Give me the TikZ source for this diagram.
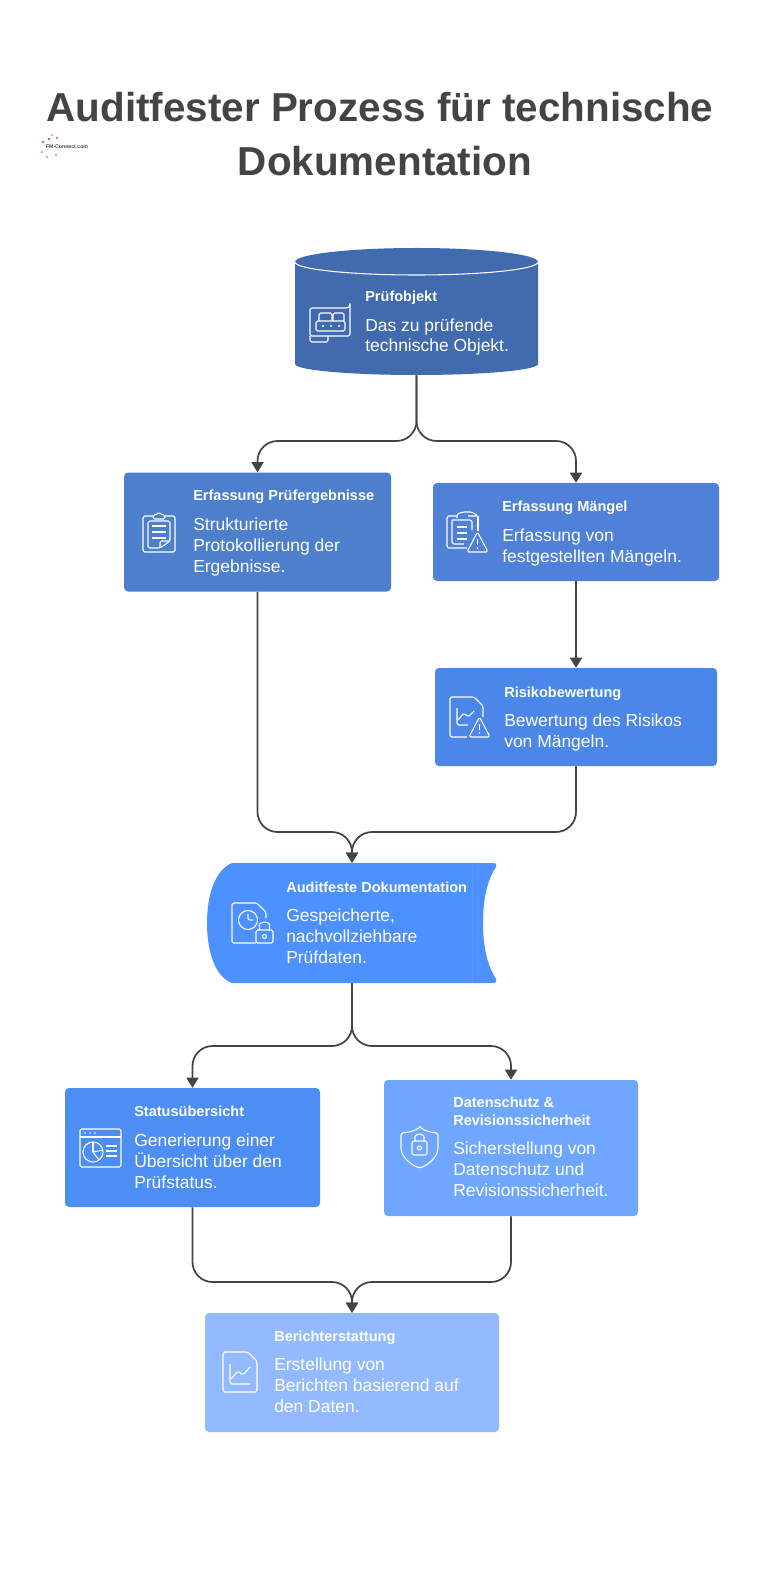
\documentclass[tikz,border=0pt]{standalone}
\usepackage{fontspec}
\setmainfont{Liberation Sans}
\usetikzlibrary{arrows.meta}
\definecolor{inkgray}{HTML}{444444}
\definecolor{objblue}{HTML}{416BAE}
\definecolor{ergblue}{HTML}{4E7FCC}
\definecolor{mangblue}{HTML}{4F81D8}
\definecolor{riskblue}{HTML}{4B87E8}
\definecolor{docblue}{HTML}{4D90FF}
\definecolor{docband}{HTML}{5A97FF}
\definecolor{statblue}{HTML}{4D8EF5}
\definecolor{datblue}{HTML}{6FA6FF}
\definecolor{berblue}{HTML}{93BAFF}
\tikzset{
    flow/.style={draw=inkgray, line width=1.3pt, rounded corners=15pt, -{Triangle[width=9pt,length=7.5pt]}},
    icon/.style={draw=white, line width=.8pt, rounded corners=1.2pt, line join=round},
    hd/.style={anchor=base west, inner sep=0pt, text=white, font=\fontsize{10.9}{13}\selectfont\bfseries, align=left},
    body/.style={anchor=base west, inner sep=0pt, text=white, font=\fontsize{13.1}{15.4}\selectfont, align=left},
    heading/.style={inner sep=0pt, text=inkgray, font=\fontsize{30.3}{36}\selectfont\bfseries},
    warn/.pic={
        \draw[icon] (0,20) -- (10.5,0) -- (21,20) -- cycle;
        \draw[icon] (10.5,7) -- (10.5,13);
        \fill[white] (10.5,16) circle (.6pt);
    },
    padlock/.pic={
        \draw[icon] (0,8) rectangle (17,21);
        \draw[icon] (3.5,8) -- (3.5,4) arc (180:360:5 and 4) -- (13.5,8);
        \draw[icon] (8.5,14.5) circle (2);
    },
}
\begin{document}
\begin{tikzpicture}[x=.75pt, y=-.75pt]
\useasboundingbox (0,0) rectangle (769,1590);
\fill[white] (0,0) rectangle (769,1590);

% heading
\node[heading] (title) at (380,107) {Auditfester Prozess für technische};
\node[heading] (title2) at (385,161) {Dokumentation};

% logo
\foreach \x/\y/\col in {43/142/violet, 49/139/blue, 57/138/red, 42/152/gray, 47/157/cyan, 56/155/cyan, 52/135/orange}
{
    \fill[\col!60] (\x,\y) circle (1.1pt);
}
\node[inner sep=0pt, text=inkgray, font=\fontsize{3.9}{5}\selectfont\bfseries] (logo) at (67,147) {FM-Connect.com};

% database on top
\fill[objblue] (295,262) arc (180:360:121.5 and 14) -- (538,364) arc (0:180:121.5 and 11) -- cycle;
\draw[white, line width=.8pt] (295,262) arc (180:0:121.5 and 13);
\node[minimum width=243*.75pt, minimum height=127*.75pt, inner sep=0pt] (obj) at (416.5,311.5) {};

% plain boxes
\foreach \name/\cx/\cy/\w/\h/\col in {erg/257.5/532/267/119/ergblue, mang/576/532/286/98/mangblue, risk/576/717/282/98/riskblue, stat/192.5/1147.5/255/119/statblue, dat/511/1148/254/136/datblue, ber/352/1372.5/294/119/berblue}
{
    \node[fill=\col, rounded corners=3pt, minimum width=\w*.75pt, minimum height=\h*.75pt, inner sep=0pt] (\name) at (\cx,\cy) {};
}

% scroll shape
\fill[docblue] (232,863) -- (493,863) .. controls (496,863) and (497,865) .. (496,867) .. controls (487,880) and (483,900) .. (483,923) .. controls (483,946) and (487,965) .. (496,979) .. controls (497,981) and (496,983) .. (493,983) -- (232,983) .. controls (215,977) and (207,951) .. (207,923) .. controls (207,895) and (215,870) .. (232,863) -- cycle;
\draw[docband, line width=.5pt] (472,863) -- (472,983);
\node[minimum width=290*.75pt, minimum height=120*.75pt, inner sep=0pt] (doc) at (352,923) {};

% connectors
\coordinate (jobj) at (416.5,441);
\coordinate (jdoc) at (352,832);
\coordinate (jsplit) at (352,1046);
\coordinate (jber) at (352,1282);
\draw[flow] (obj.south) -- (jobj) -- (jobj -| erg.north) -- (erg.north);
\draw[flow] (obj.south) -- (jobj) -- (jobj -| mang.north) -- (mang.north);
\draw[flow, rounded corners=0pt] (mang.south) -- (risk.north);
\draw[flow] (erg.south) -- (erg.south |- jdoc) -- (jdoc) -- (doc.north);
\draw[flow] (risk.south) -- (risk.south |- jdoc) -- (jdoc) -- (doc.north);
\draw[flow] (doc.south) -- (jsplit) -- (jsplit -| stat.north) -- (stat.north);
\draw[flow] (doc.south) -- (jsplit) -- (jsplit -| dat.north) -- (dat.north);
\draw[flow] (stat.south) -- (stat.south |- jber) -- (jber) -- (ber.north);
\draw[flow] (dat.south) -- (dat.south |- jber) -- (jber) -- (ber.north);

% texts, each placed by the baseline of its last line
\node[hd] (objhd) at (365,302) {Prüfobjekt};
\node[body] (objtxt) at (365,352) {Das zu prüfende\\technische Objekt.};
\node[hd] (erghd) at (193,500) {Erfassung Prüfergebnisse};
\node[body] (ergtxt) at (193,572) {Strukturierte\\Protokollierung der\\Ergebnisse.};
\node[hd] (manghd) at (502,511) {Erfassung Mängel};
\node[body] (mangtxt) at (502,562) {Erfassung von\\festgestellten Mängeln.};
\node[hd] (riskhd) at (504,697) {Risikobewertung};
\node[body] (risktxt) at (504,747) {Bewertung des Risikos\\von Mängeln.};
\node[hd] (dochd) at (286,892) {Auditfeste Dokumentation};
\node[body] (doctxt) at (286,963) {Gespeicherte,\\nachvollziehbare\\Prüfdaten.};
\node[hd] (stathd) at (134,1116) {Statusübersicht};
\node[body] (stattxt) at (134,1188) {Generierung einer\\Übersicht über den\\Prüfstatus.};
\node[hd] (dathd) at (453,1125) {Datenschutz \&\\Revisionssicherheit};
\node[body] (dattxt) at (453,1196) {Sicherstellung von\\Datenschutz und\\Revisionssicherheit.};
\node[hd] (berhd) at (274,1341) {Berichterstattung};
\node[body] (bertxt) at (274,1412) {Erstellung von\\Berichten basierend auf\\den Daten.};

% icons
% conveyor
\draw[icon] (316,308) -- (347,308) .. controls (349,307) and (350,305) .. (350,302) -- (350,336) -- (310,336) -- (310,308) -- (316,308);
\draw[icon] (310,336) -- (310,342) -- (328,342) -- (328,336);
\draw[icon] (316,321) rectangle (345,331);
\draw[icon] (319,321) -- (319,313) -- (332,313) -- (332,321);
\draw[icon] (333,321) -- (333,313) -- (344,313) -- (344,321);
\foreach \x in {323,331,339}
{
    \fill[white] (\x,326) circle (.8pt);
}
% clipboard
\draw[icon] (153,516) -- (143,516) -- (143,552) -- (175,552) -- (175,516) -- (165,516);
\draw[icon] (153,519) -- (153,515) -- (156,515) -- (159,512) -- (162,515) -- (165,515) -- (165,519) -- cycle;
\draw[icon] (148,521) -- (170,521) -- (170,541) -- (160,548) -- (148,548) -- cycle;
\draw[icon] (160,548) -- (160,541) -- (170,541);
\foreach \y in {526,532,538}
{
    \draw[icon] (152,\y) -- (166,\y);
}
% clipboard with warning
\draw[icon] (457,516) -- (447,516) -- (447,548) -- (467,548);
\draw[icon] (478,516) -- (478,531);
\draw[icon] (457,518) -- (457,514) -- (463,512) -- (472,512) -- (478,516) -- (468,516);
\draw[icon] (452,520) -- (472,520) -- (472,530);
\draw[icon] (452,520) -- (452,544) -- (464,544);
\foreach \y in {527,533,539}
{
    \draw[icon] (457,\y) -- (467,\y);
}
\pic at (467,532) {warn};
% chart with warning
\draw[icon] (467,737) -- (450,737) -- (450,697) -- (474,697) -- (483,706) -- (483,717);
\draw[icon] (457,708) -- (457,725) -- (468,725);
\draw[icon] (458,720) -- (464,713) -- (468,717) -- (474,711);
\pic at (469,717) {warn};
% page with clock and lock
\draw[icon] (256,943) -- (232,943) -- (232,903) -- (257,903) -- (266,912) -- (266,918);
\draw[icon] (248,920) circle (9.5);
\draw[icon] (248,914) -- (248,920) -- (253,920);
\pic at (256,922) {padlock};
% status window
\draw[icon] (80,1129) rectangle (121,1167);
\draw[icon] (80,1137) -- (121,1137);
\foreach \x in {85,90,95}
{
    \fill[white] (\x,1133) circle (.6pt);
}
\draw[icon] (93,1152) circle (10);
\draw[icon] (93,1152) -- (93,1142);
\draw[icon] (93,1152) -- (103,1150);
\draw[icon] (93,1152) -- (99,1160);
\foreach \y in {1146,1151,1156}
{
    \draw[icon] (106,\y) -- (117,\y);
}
% shield
\draw[icon] (401,1133) .. controls (414,1132) and (420,1128) .. (420,1128) .. controls (420,1128) and (426,1132) .. (438,1133) -- (438,1146) .. controls (438,1157) and (428,1165) .. (420,1168) .. controls (411,1165) and (401,1157) .. (401,1146) -- cycle;
\draw[icon] (412,1141) rectangle (427,1155);
\draw[icon] (415,1141) -- (415,1138) arc (180:360:4.5 and 4) -- (424,1141);
\draw[icon] (419.5,1148) circle (2);
% report page
\draw[icon] (223,1352) -- (248,1352) -- (257,1361) -- (257,1392) -- (223,1392) -- cycle;
\draw[icon] (230,1364) -- (230,1384) -- (250,1384);
\draw[icon] (231,1379) -- (238,1371) -- (243,1375) -- (250,1367);
\end{tikzpicture}
\end{document}
